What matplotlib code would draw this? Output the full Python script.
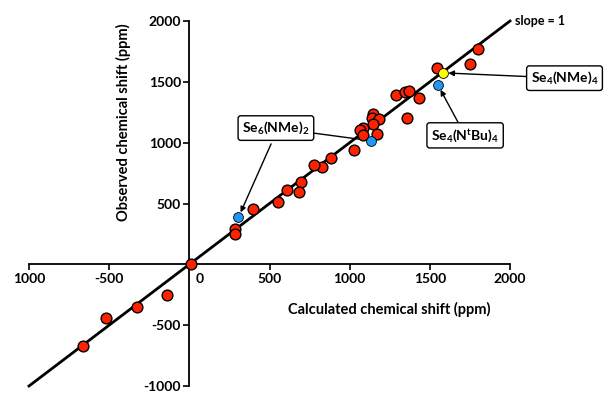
import matplotlib
matplotlib.use("Agg")
import matplotlib.pyplot as plt
import matplotlib.transforms as mtransforms

plt.rcParams['font.family'] = ['Lato', 'DejaVu Sans']
plt.rcParams['font.weight'] = 'bold'
plt.rcParams['mathtext.default'] = 'regular'

# red: general compounds
red_calc = [12, -137, -325, -519, -662, 1800, 1750, 1544, 1287, 1344, 1369, 1431, 1356,
            1144, 1138, 1181, 1144, 1081, 1063, 1081, 1169, 1025, 881, 825, 775, 694,
            681, 612, 550, 394, 287, 287]
red_obs = [0, -254, -352, -443, -672, 1770, 1648, 1615, 1393, 1418, 1426, 1369, 1205,
           1238, 1205, 1197, 1156, 1123, 1107, 1066, 1074, 943, 877, 803, 820, 680,
           598, 615, 516, 451, 287, 246]
# blue: highlighted compounds
blue_calc = [306, 1131, 1550]
blue_obs = [385, 1016, 1475]
# yellow: Se4(NMe)4
yellow_calc = [1581]
yellow_obs = [1574]

line_x = [-1000, 2000]
line_y = [-1000, 2000]

xticks = [-1000, -500, 0, 500, 1000, 1500, 2000]
xticklabels = ['1000', '-500', '0', '500', '1000', '1500', '2000']
yticks = [-1000, -500, 500, 1000, 1500, 2000]
yticklabels = ['-1000', '-500', '500', '1000', '1500', '2000']

fig = plt.figure(figsize=(6.06, 3.94), dpi=100)
ax = fig.add_axes([29/606, 8/394, 481/606, 365/394])
ax.set_xlim(-1000, 2000)
ax.set_ylim(-1000, 2000)

for s in ['top', 'right']:
    ax.spines[s].set_visible(False)
ax.spines['left'].set_position(('data', 0))
ax.spines['bottom'].set_position(('data', 0))
ax.spines['left'].set_linewidth(1.3)
ax.spines['bottom'].set_linewidth(1.3)

ax.set_xticks(xticks)
ax.set_xticklabels(xticklabels, fontsize=10, fontweight='bold')
ax.set_yticks(yticks)
ax.set_yticklabels(yticklabels, fontsize=10, fontweight='bold')
ax.tick_params(axis='both', direction='out', length=4, width=1.2, pad=2)
shift = mtransforms.ScaledTranslation(10/100, 0, fig.dpi_scale_trans)
for lbl in ax.get_xticklabels():
    if lbl.get_text() == '0':
        lbl.set_transform(lbl.get_transform() + shift)

ax.plot(line_x, line_y, color='black', lw=2, zorder=2, clip_on=False)
ax.text(2030, 2000, 'slope = 1', fontsize=9, fontweight='bold', va='center', ha='left')

ax.scatter(red_calc, red_obs, s=60, color='#FF2200', edgecolor='black', linewidth=1.0, zorder=4, clip_on=False)
ax.scatter(blue_calc, blue_obs, s=50, color='#2196F3', edgecolor='black', linewidth=0.6, zorder=5)
ax.scatter(yellow_calc, yellow_obs, s=50, color='#FFFF00', edgecolor='black', linewidth=0.6, zorder=5)

box = dict(boxstyle='round,pad=0.3,rounding_size=0.2', fc='white', ec='black', lw=1)
arr = dict(arrowstyle='-|>', color='black', lw=1, mutation_scale=8, shrinkA=0, shrinkB=4)

ax.annotate('Se$_4$(NMe)$_4$', xy=(yellow_calc[0], yellow_obs[0]),
            xytext=(2340, 1530), fontsize=10, fontweight='bold', ha='center', va='center',
            bbox=box, arrowprops=arr, annotation_clip=False, zorder=6)
ax.annotate('Se$_4$(N$^t$Bu)$_4$', xy=(blue_calc[2], blue_obs[2]),
            xytext=(1720, 1060), fontsize=10, fontweight='bold', ha='center', va='center',
            bbox=box, arrowprops=arr, zorder=6)
ax.annotate('Se$_6$(NMe)$_2$', xy=(blue_calc[1], blue_obs[1]),
            xytext=(540, 1120), fontsize=10, fontweight='bold', ha='center', va='center',
            bbox=box, arrowprops=dict(arrowstyle='-', color='black', lw=1, shrinkA=0, shrinkB=4),
            zorder=3)
ax.annotate('', xy=(blue_calc[0], blue_obs[0]), xytext=(510, 990),
            arrowprops=arr, zorder=6)

ax.text(1250, -370, 'Calculated chemical shift (ppm)', fontsize=10.5, fontweight='bold',
        ha='center', va='center')
ax.text(-410, 1165, 'Observed chemical shift (ppm)', fontsize=10.5, fontweight='bold',
        ha='center', va='center', rotation=90)

fig.savefig('out.png', dpi=100)
